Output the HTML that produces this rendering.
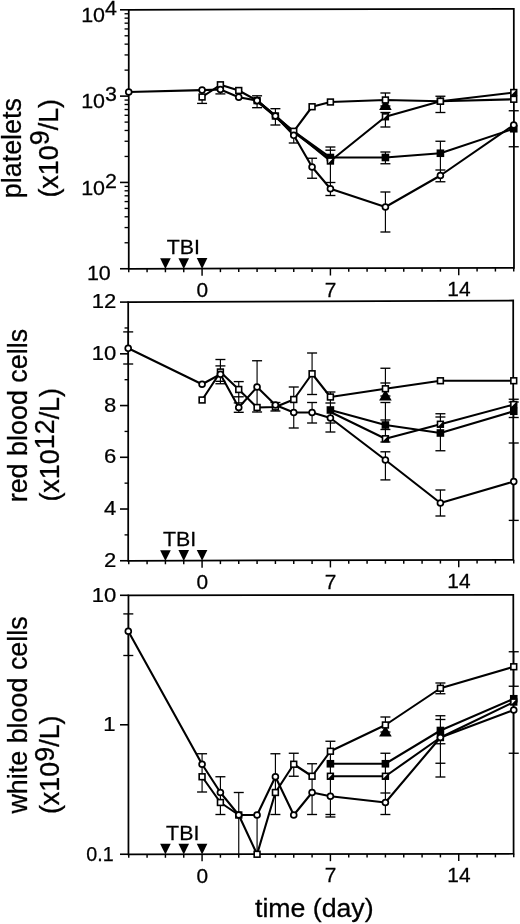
<!DOCTYPE html>
<html><head><meta charset="utf-8"><title>Figure</title>
<style>html,body{margin:0;padding:0;background:#fff}svg{display:block}</style>
</head><body>
<svg width="520" height="924" viewBox="0 0 520 924">
<rect width="520" height="924" fill="#fff"/>
<path d="M128.75 9.80L513.80 8.80L514.00 267.90L128.75 268.75Z" fill="none" stroke="#000" stroke-width="1.75" stroke-linejoin="miter"/>
<path d="M128.75 268.75v3.60" stroke="#000" stroke-width="1.45"/>
<path d="M147.08 268.71v3.60" stroke="#000" stroke-width="1.45"/>
<path d="M165.42 268.67v3.60" stroke="#000" stroke-width="1.45"/>
<path d="M183.75 268.63v3.60" stroke="#000" stroke-width="1.45"/>
<path d="M202.08 268.59v7.20" stroke="#000" stroke-width="1.45"/>
<path d="M220.41 268.55v3.60" stroke="#000" stroke-width="1.45"/>
<path d="M238.75 268.51v3.60" stroke="#000" stroke-width="1.45"/>
<path d="M257.08 268.47v3.60" stroke="#000" stroke-width="1.45"/>
<path d="M275.41 268.43v3.60" stroke="#000" stroke-width="1.45"/>
<path d="M293.75 268.39v3.60" stroke="#000" stroke-width="1.45"/>
<path d="M312.08 268.35v3.60" stroke="#000" stroke-width="1.45"/>
<path d="M330.41 268.31v7.20" stroke="#000" stroke-width="1.45"/>
<path d="M348.75 268.26v3.60" stroke="#000" stroke-width="1.45"/>
<path d="M367.08 268.22v3.60" stroke="#000" stroke-width="1.45"/>
<path d="M385.41 268.18v3.60" stroke="#000" stroke-width="1.45"/>
<path d="M403.75 268.14v3.60" stroke="#000" stroke-width="1.45"/>
<path d="M422.08 268.10v3.60" stroke="#000" stroke-width="1.45"/>
<path d="M440.41 268.06v3.60" stroke="#000" stroke-width="1.45"/>
<path d="M458.74 268.02v7.20" stroke="#000" stroke-width="1.45"/>
<path d="M477.08 267.98v3.60" stroke="#000" stroke-width="1.45"/>
<path d="M495.41 267.94v3.60" stroke="#000" stroke-width="1.45"/>
<path d="M513.74 267.90v3.60" stroke="#000" stroke-width="1.45"/>
<text transform="translate(202.28 296.99) scale(1.06 1)" font-size="19.7" text-anchor="middle" stroke="#000" stroke-width="0.25" font-family="'Liberation Sans', sans-serif">0</text>
<text transform="translate(330.61 296.71) scale(1.06 1)" font-size="19.7" text-anchor="middle" stroke="#000" stroke-width="0.25" font-family="'Liberation Sans', sans-serif">7</text>
<text transform="translate(458.94 296.42) scale(1.06 1)" font-size="19.7" text-anchor="middle" stroke="#000" stroke-width="0.25" font-family="'Liberation Sans', sans-serif">14</text>
<path d="M160.12 258.17L170.72 258.17L165.42 268.97Z" fill="#000"/>
<path d="M178.45 258.13L189.05 258.13L183.75 268.93Z" fill="#000"/>
<path d="M196.78 258.09L207.38 258.09L202.08 268.89Z" fill="#000"/>
<text transform="translate(183.40 254.15) scale(1.08 1)" font-size="19.8" text-anchor="middle" stroke="#000" stroke-width="0.25" font-family="'Liberation Sans', sans-serif">TBI</text>
<path d="M124.55 242.77h4.20" stroke="#000" stroke-width="1.35"/>
<path d="M124.55 227.57h4.20" stroke="#000" stroke-width="1.35"/>
<path d="M124.55 216.78h4.20" stroke="#000" stroke-width="1.35"/>
<path d="M124.55 208.42h4.20" stroke="#000" stroke-width="1.35"/>
<path d="M124.55 201.58h4.20" stroke="#000" stroke-width="1.35"/>
<path d="M124.55 195.80h4.20" stroke="#000" stroke-width="1.35"/>
<path d="M124.55 190.80h4.20" stroke="#000" stroke-width="1.35"/>
<path d="M124.55 186.38h4.20" stroke="#000" stroke-width="1.35"/>
<path d="M124.55 156.45h4.20" stroke="#000" stroke-width="1.35"/>
<path d="M124.55 141.25h4.20" stroke="#000" stroke-width="1.35"/>
<path d="M124.55 130.47h4.20" stroke="#000" stroke-width="1.35"/>
<path d="M124.55 122.10h4.20" stroke="#000" stroke-width="1.35"/>
<path d="M124.55 115.27h4.20" stroke="#000" stroke-width="1.35"/>
<path d="M124.55 109.49h4.20" stroke="#000" stroke-width="1.35"/>
<path d="M124.55 104.48h4.20" stroke="#000" stroke-width="1.35"/>
<path d="M124.55 100.07h4.20" stroke="#000" stroke-width="1.35"/>
<path d="M124.55 70.13h4.20" stroke="#000" stroke-width="1.35"/>
<path d="M124.55 54.93h4.20" stroke="#000" stroke-width="1.35"/>
<path d="M124.55 44.15h4.20" stroke="#000" stroke-width="1.35"/>
<path d="M124.55 35.78h4.20" stroke="#000" stroke-width="1.35"/>
<path d="M124.55 28.95h4.20" stroke="#000" stroke-width="1.35"/>
<path d="M124.55 23.17h4.20" stroke="#000" stroke-width="1.35"/>
<path d="M124.55 18.16h4.20" stroke="#000" stroke-width="1.35"/>
<path d="M124.55 13.75h4.20" stroke="#000" stroke-width="1.35"/>
<path d="M120.00 9.80h8.75" stroke="#000" stroke-width="1.60"/>
<text transform="translate(117 21.90) scale(1.09 1)" font-size="19.7" text-anchor="end" stroke="#000" stroke-width="0.25" font-family="'Liberation Sans', sans-serif">10<tspan dy="-7">4</tspan></text>
<path d="M120.00 96.12h8.75" stroke="#000" stroke-width="1.60"/>
<text transform="translate(117 108.22) scale(1.09 1)" font-size="19.7" text-anchor="end" stroke="#000" stroke-width="0.25" font-family="'Liberation Sans', sans-serif">10<tspan dy="-7">3</tspan></text>
<path d="M120.00 182.43h8.75" stroke="#000" stroke-width="1.60"/>
<text transform="translate(117 194.53) scale(1.09 1)" font-size="19.7" text-anchor="end" stroke="#000" stroke-width="0.25" font-family="'Liberation Sans', sans-serif">10<tspan dy="-7">2</tspan></text>
<path d="M120.00 268.75h8.75" stroke="#000" stroke-width="1.60"/>
<text transform="translate(110.8 279.55) scale(1.09 1)" font-size="19.7" text-anchor="end" stroke="#000" stroke-width="0.25" font-family="'Liberation Sans', sans-serif">10</text>
<path d="M202.08 92.00V103.40" stroke="#000" stroke-width="1.15" fill="none"/>
<path d="M197.08 103.40H207.08" stroke="#000" stroke-width="1.35" fill="none"/>
<path d="M220.41 86.00V93.90" stroke="#000" stroke-width="1.15" fill="none"/>
<path d="M215.41 93.90H225.41" stroke="#000" stroke-width="1.35" fill="none"/>
<path d="M257.08 95.80V107.70" stroke="#000" stroke-width="1.15" fill="none"/>
<path d="M252.08 95.80H262.08" stroke="#000" stroke-width="1.35" fill="none"/>
<path d="M252.08 107.70H262.08" stroke="#000" stroke-width="1.35" fill="none"/>
<path d="M275.41 108.70V125.00" stroke="#000" stroke-width="1.15" fill="none"/>
<path d="M270.41 108.70H280.41" stroke="#000" stroke-width="1.35" fill="none"/>
<path d="M270.41 125.00H280.41" stroke="#000" stroke-width="1.35" fill="none"/>
<path d="M293.75 131.00V143.00" stroke="#000" stroke-width="1.15" fill="none"/>
<path d="M288.75 143.00H298.75" stroke="#000" stroke-width="1.35" fill="none"/>
<path d="M312.08 158.25V178.25" stroke="#000" stroke-width="1.15" fill="none"/>
<path d="M307.08 158.25H317.08" stroke="#000" stroke-width="1.35" fill="none"/>
<path d="M307.08 178.25H317.08" stroke="#000" stroke-width="1.35" fill="none"/>
<path d="M330.41 147.00V195.50" stroke="#000" stroke-width="1.15" fill="none"/>
<path d="M325.41 147.00H335.41" stroke="#000" stroke-width="1.35" fill="none"/>
<path d="M325.41 195.50H335.41" stroke="#000" stroke-width="1.35" fill="none"/>
<path d="M325.41 150.20H335.41" stroke="#000" stroke-width="1.35" fill="none"/>
<path d="M325.41 182.50H335.41" stroke="#000" stroke-width="1.35" fill="none"/>
<path d="M385.41 93.00V106.00" stroke="#000" stroke-width="1.15" fill="none"/>
<path d="M380.41 93.00H390.41" stroke="#000" stroke-width="1.35" fill="none"/>
<path d="M380.41 106.00H390.41" stroke="#000" stroke-width="1.35" fill="none"/>
<path d="M385.41 112.50V127.00" stroke="#000" stroke-width="1.15" fill="none"/>
<path d="M380.41 112.50H390.41" stroke="#000" stroke-width="1.35" fill="none"/>
<path d="M380.41 127.00H390.41" stroke="#000" stroke-width="1.35" fill="none"/>
<path d="M385.41 152.00V163.75" stroke="#000" stroke-width="1.15" fill="none"/>
<path d="M380.41 152.00H390.41" stroke="#000" stroke-width="1.35" fill="none"/>
<path d="M380.41 163.75H390.41" stroke="#000" stroke-width="1.35" fill="none"/>
<path d="M385.41 192.00V232.00" stroke="#000" stroke-width="1.15" fill="none"/>
<path d="M380.41 192.00H390.41" stroke="#000" stroke-width="1.35" fill="none"/>
<path d="M380.41 232.00H390.41" stroke="#000" stroke-width="1.35" fill="none"/>
<path d="M440.41 96.25V112.50" stroke="#000" stroke-width="1.15" fill="none"/>
<path d="M435.41 96.25H445.41" stroke="#000" stroke-width="1.35" fill="none"/>
<path d="M435.41 112.50H445.41" stroke="#000" stroke-width="1.35" fill="none"/>
<path d="M440.41 141.25V181.75" stroke="#000" stroke-width="1.15" fill="none"/>
<path d="M435.41 141.25H445.41" stroke="#000" stroke-width="1.35" fill="none"/>
<path d="M435.41 181.75H445.41" stroke="#000" stroke-width="1.35" fill="none"/>
<path d="M435.41 170.00H445.41" stroke="#000" stroke-width="1.35" fill="none"/>
<path d="M513.74 110.75V146.75" stroke="#000" stroke-width="1.15" fill="none"/>
<path d="M508.74 110.75H518.74" stroke="#000" stroke-width="1.35" fill="none"/>
<path d="M508.74 146.75H518.74" stroke="#000" stroke-width="1.35" fill="none"/>
<path d="M513.74 88.00V103.00" stroke="#000" stroke-width="1.15" fill="none"/>
<polyline fill="none" stroke="#000" stroke-width="2.10" stroke-linejoin="round" points="293.75,131.30 330.41,157.50 385.41,157.50 440.41,153.25 513.75,128.75"/>
<polyline fill="none" stroke="#000" stroke-width="2.10" stroke-linejoin="round" points="293.75,131.30 330.41,161.00 385.41,116.75 440.41,101.25 513.75,92.50"/>
<polyline fill="none" stroke="#000" stroke-width="2.10" stroke-linejoin="round" points="202.08,97.00 220.41,84.80 238.75,90.50 257.08,100.60 275.41,116.00 293.75,131.30 312.08,106.75 330.41,102.00 385.41,100.00 440.41,101.25 513.75,99.25"/>
<polyline fill="none" stroke="#000" stroke-width="2.10" stroke-linejoin="round" points="128.75,92.00 202.08,90.10 220.41,89.50 238.75,97.20 257.08,100.60 275.41,116.00 293.75,135.30 312.08,167.00 330.41,188.75 385.41,207.00 440.41,175.50 513.75,125.00"/>
<polyline fill="none" stroke="#000" stroke-width="1.60" stroke-linejoin="round" points="293.75,132.50 330.41,159.30"/>
<polyline fill="none" stroke="#000" stroke-width="3.00" stroke-linejoin="round" points="257.08,100.80 275.41,116.20 293.75,133.00"/>
<path d="M385.41 99.00L391.71 110.00L379.11 110.00Z" fill="#000"/>
<rect x="326.61" y="153.70" width="7.6" height="7.6" fill="#000"/>
<rect x="381.61" y="153.70" width="7.6" height="7.6" fill="#000"/>
<rect x="436.61" y="149.45" width="7.6" height="7.6" fill="#000"/>
<rect x="509.95" y="124.95" width="7.6" height="7.6" fill="#000"/>
<rect x="327.51" y="158.10" width="5.8" height="5.8" fill="#fff" stroke="#000" stroke-width="1.6"/>
<path d="M327.51 163.90L333.31 158.10L333.31 163.90Z" fill="#000"/>
<rect x="382.51" y="113.85" width="5.8" height="5.8" fill="#fff" stroke="#000" stroke-width="1.6"/>
<path d="M382.51 119.65L388.31 113.85L388.31 119.65Z" fill="#000"/>
<rect x="437.51" y="98.35" width="5.8" height="5.8" fill="#fff" stroke="#000" stroke-width="1.6"/>
<path d="M437.51 104.15L443.31 98.35L443.31 104.15Z" fill="#000"/>
<rect x="510.85" y="89.60" width="5.8" height="5.8" fill="#fff" stroke="#000" stroke-width="1.6"/>
<path d="M510.85 95.40L516.65 89.60L516.65 95.40Z" fill="#000"/>
<rect x="199.18" y="94.10" width="5.8" height="5.8" fill="#fff" stroke="#000" stroke-width="1.6"/>
<rect x="217.51" y="81.90" width="5.8" height="5.8" fill="#fff" stroke="#000" stroke-width="1.6"/>
<rect x="235.85" y="87.60" width="5.8" height="5.8" fill="#fff" stroke="#000" stroke-width="1.6"/>
<rect x="254.18" y="97.70" width="5.8" height="5.8" fill="#fff" stroke="#000" stroke-width="1.6"/>
<rect x="272.51" y="113.10" width="5.8" height="5.8" fill="#fff" stroke="#000" stroke-width="1.6"/>
<rect x="290.85" y="128.40" width="5.8" height="5.8" fill="#fff" stroke="#000" stroke-width="1.6"/>
<rect x="309.18" y="103.85" width="5.8" height="5.8" fill="#fff" stroke="#000" stroke-width="1.6"/>
<rect x="327.51" y="99.10" width="5.8" height="5.8" fill="#fff" stroke="#000" stroke-width="1.6"/>
<rect x="382.51" y="97.10" width="5.8" height="5.8" fill="#fff" stroke="#000" stroke-width="1.6"/>
<rect x="437.51" y="98.35" width="5.8" height="5.8" fill="#fff" stroke="#000" stroke-width="1.6"/>
<rect x="510.85" y="96.35" width="5.8" height="5.8" fill="#fff" stroke="#000" stroke-width="1.6"/>
<circle cx="128.75" cy="92.00" r="2.95" fill="#fff" stroke="#000" stroke-width="1.7"/>
<circle cx="202.08" cy="90.10" r="2.95" fill="#fff" stroke="#000" stroke-width="1.7"/>
<circle cx="220.41" cy="89.50" r="2.95" fill="#fff" stroke="#000" stroke-width="1.7"/>
<circle cx="238.75" cy="97.20" r="2.95" fill="#fff" stroke="#000" stroke-width="1.7"/>
<circle cx="257.08" cy="100.60" r="2.95" fill="#fff" stroke="#000" stroke-width="1.7"/>
<circle cx="275.41" cy="116.00" r="2.95" fill="#fff" stroke="#000" stroke-width="1.7"/>
<circle cx="293.75" cy="135.30" r="2.95" fill="#fff" stroke="#000" stroke-width="1.7"/>
<circle cx="312.08" cy="167.00" r="2.95" fill="#fff" stroke="#000" stroke-width="1.7"/>
<circle cx="330.41" cy="188.75" r="2.95" fill="#fff" stroke="#000" stroke-width="1.7"/>
<circle cx="385.41" cy="207.00" r="2.95" fill="#fff" stroke="#000" stroke-width="1.7"/>
<circle cx="440.41" cy="175.50" r="2.95" fill="#fff" stroke="#000" stroke-width="1.7"/>
<circle cx="513.75" cy="125.00" r="2.95" fill="#fff" stroke="#000" stroke-width="1.7"/>
<path d="M128.20 302.10L513.20 300.50L513.30 559.80L128.20 560.75Z" fill="none" stroke="#000" stroke-width="1.75" stroke-linejoin="miter"/>
<path d="M128.75 560.75v3.60" stroke="#000" stroke-width="1.45"/>
<path d="M147.08 560.70v3.60" stroke="#000" stroke-width="1.45"/>
<path d="M165.42 560.66v3.60" stroke="#000" stroke-width="1.45"/>
<path d="M183.75 560.61v3.60" stroke="#000" stroke-width="1.45"/>
<path d="M202.08 560.57v7.20" stroke="#000" stroke-width="1.45"/>
<path d="M220.41 560.52v3.60" stroke="#000" stroke-width="1.45"/>
<path d="M238.75 560.48v3.60" stroke="#000" stroke-width="1.45"/>
<path d="M257.08 560.43v3.60" stroke="#000" stroke-width="1.45"/>
<path d="M275.41 560.39v3.60" stroke="#000" stroke-width="1.45"/>
<path d="M293.75 560.34v3.60" stroke="#000" stroke-width="1.45"/>
<path d="M312.08 560.30v3.60" stroke="#000" stroke-width="1.45"/>
<path d="M330.41 560.25v7.20" stroke="#000" stroke-width="1.45"/>
<path d="M348.75 560.21v3.60" stroke="#000" stroke-width="1.45"/>
<path d="M367.08 560.16v3.60" stroke="#000" stroke-width="1.45"/>
<path d="M385.41 560.12v3.60" stroke="#000" stroke-width="1.45"/>
<path d="M403.75 560.07v3.60" stroke="#000" stroke-width="1.45"/>
<path d="M422.08 560.03v3.60" stroke="#000" stroke-width="1.45"/>
<path d="M440.41 559.98v3.60" stroke="#000" stroke-width="1.45"/>
<path d="M458.74 559.93v7.20" stroke="#000" stroke-width="1.45"/>
<path d="M477.08 559.89v3.60" stroke="#000" stroke-width="1.45"/>
<path d="M495.41 559.84v3.60" stroke="#000" stroke-width="1.45"/>
<path d="M513.74 559.80v3.60" stroke="#000" stroke-width="1.45"/>
<text transform="translate(202.28 588.97) scale(1.06 1)" font-size="19.7" text-anchor="middle" stroke="#000" stroke-width="0.25" font-family="'Liberation Sans', sans-serif">0</text>
<text transform="translate(330.61 588.65) scale(1.06 1)" font-size="19.7" text-anchor="middle" stroke="#000" stroke-width="0.25" font-family="'Liberation Sans', sans-serif">7</text>
<text transform="translate(458.94 588.33) scale(1.06 1)" font-size="19.7" text-anchor="middle" stroke="#000" stroke-width="0.25" font-family="'Liberation Sans', sans-serif">14</text>
<path d="M160.12 550.16L170.72 550.16L165.42 560.96Z" fill="#000"/>
<path d="M178.45 550.11L189.05 550.11L183.75 560.91Z" fill="#000"/>
<path d="M196.78 550.07L207.38 550.07L202.08 560.87Z" fill="#000"/>
<text transform="translate(179.50 546.45) scale(1.08 1)" font-size="19.8" text-anchor="middle" stroke="#000" stroke-width="0.25" font-family="'Liberation Sans', sans-serif">TBI</text>
<path d="M120.00 560.75h8.75" stroke="#000" stroke-width="1.60"/>
<text transform="translate(116.3 566.95) scale(1.12 1)" font-size="19.7" text-anchor="end" stroke="#000" stroke-width="0.25" font-family="'Liberation Sans', sans-serif">2</text>
<path d="M124.55 534.88h4.20" stroke="#000" stroke-width="1.35"/>
<path d="M120.00 509.02h8.75" stroke="#000" stroke-width="1.60"/>
<text transform="translate(116.3 515.22) scale(1.12 1)" font-size="19.7" text-anchor="end" stroke="#000" stroke-width="0.25" font-family="'Liberation Sans', sans-serif">4</text>
<path d="M124.55 483.15h4.20" stroke="#000" stroke-width="1.35"/>
<path d="M120.00 457.29h8.75" stroke="#000" stroke-width="1.60"/>
<text transform="translate(116.3 463.49) scale(1.12 1)" font-size="19.7" text-anchor="end" stroke="#000" stroke-width="0.25" font-family="'Liberation Sans', sans-serif">6</text>
<path d="M124.55 431.43h4.20" stroke="#000" stroke-width="1.35"/>
<path d="M120.00 405.56h8.75" stroke="#000" stroke-width="1.60"/>
<text transform="translate(116.3 411.76) scale(1.12 1)" font-size="19.7" text-anchor="end" stroke="#000" stroke-width="0.25" font-family="'Liberation Sans', sans-serif">8</text>
<path d="M124.55 379.70h4.20" stroke="#000" stroke-width="1.35"/>
<path d="M120.00 353.83h8.75" stroke="#000" stroke-width="1.60"/>
<text transform="translate(116.3 360.03) scale(1.12 1)" font-size="19.7" text-anchor="end" stroke="#000" stroke-width="0.25" font-family="'Liberation Sans', sans-serif">10</text>
<path d="M124.55 327.97h4.20" stroke="#000" stroke-width="1.35"/>
<path d="M120.00 302.10h8.75" stroke="#000" stroke-width="1.60"/>
<text transform="translate(116.3 308.30) scale(1.12 1)" font-size="19.7" text-anchor="end" stroke="#000" stroke-width="0.25" font-family="'Liberation Sans', sans-serif">12</text>
<path d="M128.20 331.90V364.00" stroke="#000" stroke-width="1.15" fill="none"/>
<path d="M123.20 331.90H133.20" stroke="#000" stroke-width="1.35" fill="none"/>
<path d="M123.20 364.00H133.20" stroke="#000" stroke-width="1.35" fill="none"/>
<path d="M220.41 359.50V383.75" stroke="#000" stroke-width="1.15" fill="none"/>
<path d="M215.41 359.50H225.41" stroke="#000" stroke-width="1.35" fill="none"/>
<path d="M215.41 383.75H225.41" stroke="#000" stroke-width="1.35" fill="none"/>
<path d="M215.41 365.90H225.41" stroke="#000" stroke-width="1.35" fill="none"/>
<path d="M215.41 381.30H225.41" stroke="#000" stroke-width="1.35" fill="none"/>
<path d="M238.75 381.60V412.30" stroke="#000" stroke-width="1.15" fill="none"/>
<path d="M233.75 381.60H243.75" stroke="#000" stroke-width="1.35" fill="none"/>
<path d="M233.75 412.30H243.75" stroke="#000" stroke-width="1.35" fill="none"/>
<path d="M233.75 396.80H243.75" stroke="#000" stroke-width="1.35" fill="none"/>
<path d="M233.75 402.90H243.75" stroke="#000" stroke-width="1.35" fill="none"/>
<path d="M257.08 360.75V412.00" stroke="#000" stroke-width="1.15" fill="none"/>
<path d="M252.08 360.75H262.08" stroke="#000" stroke-width="1.35" fill="none"/>
<path d="M252.08 412.00H262.08" stroke="#000" stroke-width="1.35" fill="none"/>
<path d="M275.41 402.50V411.00" stroke="#000" stroke-width="1.15" fill="none"/>
<path d="M270.41 402.50H280.41" stroke="#000" stroke-width="1.35" fill="none"/>
<path d="M270.41 411.00H280.41" stroke="#000" stroke-width="1.35" fill="none"/>
<path d="M293.75 387.00V428.00" stroke="#000" stroke-width="1.15" fill="none"/>
<path d="M288.75 387.00H298.75" stroke="#000" stroke-width="1.35" fill="none"/>
<path d="M288.75 428.00H298.75" stroke="#000" stroke-width="1.35" fill="none"/>
<path d="M312.08 353.00V394.50" stroke="#000" stroke-width="1.15" fill="none"/>
<path d="M307.08 353.00H317.08" stroke="#000" stroke-width="1.35" fill="none"/>
<path d="M307.08 394.50H317.08" stroke="#000" stroke-width="1.35" fill="none"/>
<path d="M312.08 402.50V423.00" stroke="#000" stroke-width="1.15" fill="none"/>
<path d="M307.08 402.50H317.08" stroke="#000" stroke-width="1.35" fill="none"/>
<path d="M307.08 423.00H317.08" stroke="#000" stroke-width="1.35" fill="none"/>
<path d="M330.41 392.00V432.00" stroke="#000" stroke-width="1.15" fill="none"/>
<path d="M325.41 392.00H335.41" stroke="#000" stroke-width="1.35" fill="none"/>
<path d="M325.41 432.00H335.41" stroke="#000" stroke-width="1.35" fill="none"/>
<path d="M325.41 403.00H335.41" stroke="#000" stroke-width="1.35" fill="none"/>
<path d="M325.41 423.00H335.41" stroke="#000" stroke-width="1.35" fill="none"/>
<path d="M385.41 368.25V396.00" stroke="#000" stroke-width="1.15" fill="none"/>
<path d="M380.41 368.25H390.41" stroke="#000" stroke-width="1.35" fill="none"/>
<path d="M380.41 396.00H390.41" stroke="#000" stroke-width="1.35" fill="none"/>
<path d="M380.41 383.00H390.41" stroke="#000" stroke-width="1.35" fill="none"/>
<path d="M385.41 402.50V442.00" stroke="#000" stroke-width="1.15" fill="none"/>
<path d="M380.41 402.50H390.41" stroke="#000" stroke-width="1.35" fill="none"/>
<path d="M380.41 442.00H390.41" stroke="#000" stroke-width="1.35" fill="none"/>
<path d="M380.41 420.00H390.41" stroke="#000" stroke-width="1.35" fill="none"/>
<path d="M380.41 429.50H390.41" stroke="#000" stroke-width="1.35" fill="none"/>
<path d="M385.41 451.80V479.90" stroke="#000" stroke-width="1.15" fill="none"/>
<path d="M380.41 451.80H390.41" stroke="#000" stroke-width="1.35" fill="none"/>
<path d="M380.41 479.90H390.41" stroke="#000" stroke-width="1.35" fill="none"/>
<path d="M440.41 413.75V450.75" stroke="#000" stroke-width="1.15" fill="none"/>
<path d="M435.41 413.75H445.41" stroke="#000" stroke-width="1.35" fill="none"/>
<path d="M435.41 450.75H445.41" stroke="#000" stroke-width="1.35" fill="none"/>
<path d="M435.41 417.00H445.41" stroke="#000" stroke-width="1.35" fill="none"/>
<path d="M440.41 490.00V516.00" stroke="#000" stroke-width="1.15" fill="none"/>
<path d="M435.41 490.00H445.41" stroke="#000" stroke-width="1.35" fill="none"/>
<path d="M435.41 516.00H445.41" stroke="#000" stroke-width="1.35" fill="none"/>
<path d="M513.74 399.25V417.50" stroke="#000" stroke-width="1.15" fill="none"/>
<path d="M508.74 399.25H518.74" stroke="#000" stroke-width="1.35" fill="none"/>
<path d="M508.74 417.50H518.74" stroke="#000" stroke-width="1.35" fill="none"/>
<path d="M508.74 402.00H518.74" stroke="#000" stroke-width="1.35" fill="none"/>
<path d="M513.74 443.00V520.40" stroke="#000" stroke-width="1.15" fill="none"/>
<path d="M508.74 443.00H518.74" stroke="#000" stroke-width="1.35" fill="none"/>
<path d="M508.74 520.40H518.74" stroke="#000" stroke-width="1.35" fill="none"/>
<polyline fill="none" stroke="#000" stroke-width="2.10" stroke-linejoin="round" points="330.41,410.00 385.41,425.00 440.41,433.00 513.75,411.25"/>
<polyline fill="none" stroke="#000" stroke-width="2.10" stroke-linejoin="round" points="330.41,412.00 385.41,438.75 440.41,424.25 513.75,404.50"/>
<polyline fill="none" stroke="#000" stroke-width="2.10" stroke-linejoin="round" points="202.08,400.00 220.41,372.00 238.75,389.50 257.08,407.50 275.41,407.00 293.75,399.50 312.08,373.75 330.41,397.00 385.41,388.75 440.41,380.75 513.75,380.75"/>
<polyline fill="none" stroke="#000" stroke-width="2.10" stroke-linejoin="round" points="128.20,348.30 202.08,384.25 220.41,374.25 238.75,407.50 257.08,387.00 275.41,405.00 293.75,412.50 312.08,412.50 330.41,418.00 385.41,460.00 440.41,503.00 513.75,481.60"/>
<path d="M385.41 389.50L391.71 400.50L379.11 400.50Z" fill="#000"/>
<rect x="326.61" y="406.20" width="7.6" height="7.6" fill="#000"/>
<rect x="381.61" y="421.20" width="7.6" height="7.6" fill="#000"/>
<rect x="436.61" y="429.20" width="7.6" height="7.6" fill="#000"/>
<rect x="509.95" y="407.45" width="7.6" height="7.6" fill="#000"/>
<rect x="382.51" y="435.85" width="5.8" height="5.8" fill="#fff" stroke="#000" stroke-width="1.6"/>
<path d="M382.51 441.65L388.31 435.85L388.31 441.65Z" fill="#000"/>
<rect x="437.51" y="421.35" width="5.8" height="5.8" fill="#fff" stroke="#000" stroke-width="1.6"/>
<path d="M437.51 427.15L443.31 421.35L443.31 427.15Z" fill="#000"/>
<rect x="510.85" y="401.60" width="5.8" height="5.8" fill="#fff" stroke="#000" stroke-width="1.6"/>
<path d="M510.85 407.40L516.65 401.60L516.65 407.40Z" fill="#000"/>
<rect x="199.18" y="397.10" width="5.8" height="5.8" fill="#fff" stroke="#000" stroke-width="1.6"/>
<rect x="217.51" y="369.10" width="5.8" height="5.8" fill="#fff" stroke="#000" stroke-width="1.6"/>
<rect x="235.85" y="386.60" width="5.8" height="5.8" fill="#fff" stroke="#000" stroke-width="1.6"/>
<rect x="254.18" y="404.60" width="5.8" height="5.8" fill="#fff" stroke="#000" stroke-width="1.6"/>
<rect x="272.51" y="404.10" width="5.8" height="5.8" fill="#fff" stroke="#000" stroke-width="1.6"/>
<rect x="290.85" y="396.60" width="5.8" height="5.8" fill="#fff" stroke="#000" stroke-width="1.6"/>
<rect x="309.18" y="370.85" width="5.8" height="5.8" fill="#fff" stroke="#000" stroke-width="1.6"/>
<rect x="327.51" y="394.10" width="5.8" height="5.8" fill="#fff" stroke="#000" stroke-width="1.6"/>
<rect x="382.51" y="385.85" width="5.8" height="5.8" fill="#fff" stroke="#000" stroke-width="1.6"/>
<rect x="437.51" y="377.85" width="5.8" height="5.8" fill="#fff" stroke="#000" stroke-width="1.6"/>
<rect x="510.85" y="377.85" width="5.8" height="5.8" fill="#fff" stroke="#000" stroke-width="1.6"/>
<circle cx="128.20" cy="348.30" r="2.95" fill="#fff" stroke="#000" stroke-width="1.7"/>
<circle cx="202.08" cy="384.25" r="2.95" fill="#fff" stroke="#000" stroke-width="1.7"/>
<circle cx="220.41" cy="374.25" r="2.95" fill="#fff" stroke="#000" stroke-width="1.7"/>
<circle cx="238.75" cy="407.50" r="2.95" fill="#fff" stroke="#000" stroke-width="1.7"/>
<circle cx="257.08" cy="387.00" r="2.95" fill="#fff" stroke="#000" stroke-width="1.7"/>
<circle cx="275.41" cy="405.00" r="2.95" fill="#fff" stroke="#000" stroke-width="1.7"/>
<circle cx="293.75" cy="412.50" r="2.95" fill="#fff" stroke="#000" stroke-width="1.7"/>
<circle cx="312.08" cy="412.50" r="2.95" fill="#fff" stroke="#000" stroke-width="1.7"/>
<circle cx="330.41" cy="418.00" r="2.95" fill="#fff" stroke="#000" stroke-width="1.7"/>
<circle cx="385.41" cy="460.00" r="2.95" fill="#fff" stroke="#000" stroke-width="1.7"/>
<circle cx="440.41" cy="503.00" r="2.95" fill="#fff" stroke="#000" stroke-width="1.7"/>
<circle cx="513.75" cy="481.60" r="2.95" fill="#fff" stroke="#000" stroke-width="1.7"/>
<path d="M128.45 595.30L513.30 594.80L513.60 853.75L128.45 854.25Z" fill="none" stroke="#000" stroke-width="1.75" stroke-linejoin="miter"/>
<path d="M128.75 854.25v3.60" stroke="#000" stroke-width="1.45"/>
<path d="M147.08 854.23v3.60" stroke="#000" stroke-width="1.45"/>
<path d="M165.42 854.20v3.60" stroke="#000" stroke-width="1.45"/>
<path d="M183.75 854.18v3.60" stroke="#000" stroke-width="1.45"/>
<path d="M202.08 854.15v7.20" stroke="#000" stroke-width="1.45"/>
<path d="M220.41 854.13v3.60" stroke="#000" stroke-width="1.45"/>
<path d="M238.75 854.11v3.60" stroke="#000" stroke-width="1.45"/>
<path d="M257.08 854.08v3.60" stroke="#000" stroke-width="1.45"/>
<path d="M275.41 854.06v3.60" stroke="#000" stroke-width="1.45"/>
<path d="M293.75 854.04v3.60" stroke="#000" stroke-width="1.45"/>
<path d="M312.08 854.01v3.60" stroke="#000" stroke-width="1.45"/>
<path d="M330.41 853.99v7.20" stroke="#000" stroke-width="1.45"/>
<path d="M348.75 853.96v3.60" stroke="#000" stroke-width="1.45"/>
<path d="M367.08 853.94v3.60" stroke="#000" stroke-width="1.45"/>
<path d="M385.41 853.92v3.60" stroke="#000" stroke-width="1.45"/>
<path d="M403.75 853.89v3.60" stroke="#000" stroke-width="1.45"/>
<path d="M422.08 853.87v3.60" stroke="#000" stroke-width="1.45"/>
<path d="M440.41 853.85v3.60" stroke="#000" stroke-width="1.45"/>
<path d="M458.74 853.82v7.20" stroke="#000" stroke-width="1.45"/>
<path d="M477.08 853.80v3.60" stroke="#000" stroke-width="1.45"/>
<path d="M495.41 853.77v3.60" stroke="#000" stroke-width="1.45"/>
<path d="M513.74 853.75v3.60" stroke="#000" stroke-width="1.45"/>
<text transform="translate(202.28 882.55) scale(1.06 1)" font-size="19.7" text-anchor="middle" stroke="#000" stroke-width="0.25" font-family="'Liberation Sans', sans-serif">0</text>
<text transform="translate(330.61 882.39) scale(1.06 1)" font-size="19.7" text-anchor="middle" stroke="#000" stroke-width="0.25" font-family="'Liberation Sans', sans-serif">7</text>
<text transform="translate(458.94 882.22) scale(1.06 1)" font-size="19.7" text-anchor="middle" stroke="#000" stroke-width="0.25" font-family="'Liberation Sans', sans-serif">14</text>
<path d="M160.12 843.70L170.72 843.70L165.42 854.50Z" fill="#000"/>
<path d="M178.45 843.68L189.05 843.68L183.75 854.48Z" fill="#000"/>
<path d="M196.78 843.65L207.38 843.65L202.08 854.45Z" fill="#000"/>
<text transform="translate(182.70 840.35) scale(1.08 1)" font-size="19.8" text-anchor="middle" stroke="#000" stroke-width="0.25" font-family="'Liberation Sans', sans-serif">TBI</text>
<path d="M120.00 854.25h8.75" stroke="#000" stroke-width="1.60"/>
<text transform="translate(113.7 860.85) scale(1.0 1)" font-size="19.7" text-anchor="end" stroke="#000" stroke-width="0.25" font-family="'Liberation Sans', sans-serif">0.1</text>
<path d="M120.00 724.77h8.75" stroke="#000" stroke-width="1.60"/>
<text transform="translate(115.6 731.07) scale(1.12 1)" font-size="19.7" text-anchor="end" stroke="#000" stroke-width="0.25" font-family="'Liberation Sans', sans-serif">1</text>
<path d="M120.00 595.30h8.75" stroke="#000" stroke-width="1.60"/>
<text transform="translate(116.3 601.50) scale(1.12 1)" font-size="19.7" text-anchor="end" stroke="#000" stroke-width="0.25" font-family="'Liberation Sans', sans-serif">10</text>
<path d="M128.30 613.90V655.50" stroke="#000" stroke-width="1.15" fill="none"/>
<path d="M123.30 613.90H133.30" stroke="#000" stroke-width="1.35" fill="none"/>
<path d="M123.30 655.50H133.30" stroke="#000" stroke-width="1.35" fill="none"/>
<path d="M202.08 753.75V792.00" stroke="#000" stroke-width="1.15" fill="none"/>
<path d="M197.08 753.75H207.08" stroke="#000" stroke-width="1.35" fill="none"/>
<path d="M197.08 792.00H207.08" stroke="#000" stroke-width="1.35" fill="none"/>
<path d="M220.41 776.75V814.50" stroke="#000" stroke-width="1.15" fill="none"/>
<path d="M215.41 776.75H225.41" stroke="#000" stroke-width="1.35" fill="none"/>
<path d="M215.41 814.50H225.41" stroke="#000" stroke-width="1.35" fill="none"/>
<path d="M238.75 792.50V854.25" stroke="#000" stroke-width="1.15" fill="none"/>
<path d="M233.75 792.50H243.75" stroke="#000" stroke-width="1.35" fill="none"/>
<path d="M257.08 815.00V854.25" stroke="#000" stroke-width="1.15" fill="none"/>
<path d="M275.41 753.75V814.50" stroke="#000" stroke-width="1.15" fill="none"/>
<path d="M270.41 753.75H280.41" stroke="#000" stroke-width="1.35" fill="none"/>
<path d="M270.41 814.50H280.41" stroke="#000" stroke-width="1.35" fill="none"/>
<path d="M293.75 753.25V776.25" stroke="#000" stroke-width="1.15" fill="none"/>
<path d="M288.75 753.25H298.75" stroke="#000" stroke-width="1.35" fill="none"/>
<path d="M288.75 776.25H298.75" stroke="#000" stroke-width="1.35" fill="none"/>
<path d="M312.08 763.75V814.50" stroke="#000" stroke-width="1.15" fill="none"/>
<path d="M307.08 763.75H317.08" stroke="#000" stroke-width="1.35" fill="none"/>
<path d="M307.08 814.50H317.08" stroke="#000" stroke-width="1.35" fill="none"/>
<path d="M330.41 741.25V817.00" stroke="#000" stroke-width="1.15" fill="none"/>
<path d="M325.41 741.25H335.41" stroke="#000" stroke-width="1.35" fill="none"/>
<path d="M325.41 817.00H335.41" stroke="#000" stroke-width="1.35" fill="none"/>
<path d="M325.41 814.50H335.41" stroke="#000" stroke-width="1.35" fill="none"/>
<path d="M385.41 717.00V732.00" stroke="#000" stroke-width="1.15" fill="none"/>
<path d="M380.41 717.00H390.41" stroke="#000" stroke-width="1.35" fill="none"/>
<path d="M380.41 732.00H390.41" stroke="#000" stroke-width="1.35" fill="none"/>
<path d="M385.41 753.25V814.50" stroke="#000" stroke-width="1.15" fill="none"/>
<path d="M380.41 753.25H390.41" stroke="#000" stroke-width="1.35" fill="none"/>
<path d="M380.41 814.50H390.41" stroke="#000" stroke-width="1.35" fill="none"/>
<path d="M380.41 793.00H390.41" stroke="#000" stroke-width="1.35" fill="none"/>
<path d="M440.41 683.00V693.75" stroke="#000" stroke-width="1.15" fill="none"/>
<path d="M435.41 683.00H445.41" stroke="#000" stroke-width="1.35" fill="none"/>
<path d="M435.41 693.75H445.41" stroke="#000" stroke-width="1.35" fill="none"/>
<path d="M440.41 715.75V777.00" stroke="#000" stroke-width="1.15" fill="none"/>
<path d="M435.41 715.75H445.41" stroke="#000" stroke-width="1.35" fill="none"/>
<path d="M435.41 777.00H445.41" stroke="#000" stroke-width="1.35" fill="none"/>
<path d="M435.41 719.50H445.41" stroke="#000" stroke-width="1.35" fill="none"/>
<path d="M435.41 743.75H445.41" stroke="#000" stroke-width="1.35" fill="none"/>
<path d="M435.41 763.25H445.41" stroke="#000" stroke-width="1.35" fill="none"/>
<path d="M513.74 651.75V686.25" stroke="#000" stroke-width="1.15" fill="none"/>
<path d="M508.74 651.75H518.74" stroke="#000" stroke-width="1.35" fill="none"/>
<path d="M508.74 686.25H518.74" stroke="#000" stroke-width="1.35" fill="none"/>
<path d="M513.74 698.00V753.25" stroke="#000" stroke-width="1.15" fill="none"/>
<path d="M508.74 753.25H518.74" stroke="#000" stroke-width="1.35" fill="none"/>
<polyline fill="none" stroke="#000" stroke-width="2.10" stroke-linejoin="round" points="330.41,763.75 385.41,763.75 440.41,730.50 513.75,698.75"/>
<polyline fill="none" stroke="#000" stroke-width="2.10" stroke-linejoin="round" points="330.41,776.25 385.41,776.25 440.41,737.50 513.75,702.00"/>
<polyline fill="none" stroke="#000" stroke-width="2.10" stroke-linejoin="round" points="202.08,776.75 220.41,802.50 238.75,815.00 257.08,854.25 275.41,792.50 293.75,764.25 312.08,776.25 330.41,751.25 385.41,725.00 440.41,688.25 513.75,666.75"/>
<polyline fill="none" stroke="#000" stroke-width="2.10" stroke-linejoin="round" points="128.30,631.25 202.08,764.25 220.41,792.50 238.75,815.00 257.08,815.00 275.41,776.75 293.75,815.00 312.08,792.50 330.41,796.25 385.41,802.50 440.41,737.50 513.75,710.00"/>
<path d="M385.41 725.50L391.71 736.50L379.11 736.50Z" fill="#000"/>
<rect x="326.61" y="759.95" width="7.6" height="7.6" fill="#000"/>
<rect x="381.61" y="759.95" width="7.6" height="7.6" fill="#000"/>
<rect x="436.61" y="726.70" width="7.6" height="7.6" fill="#000"/>
<rect x="509.95" y="694.95" width="7.6" height="7.6" fill="#000"/>
<rect x="327.51" y="773.35" width="5.8" height="5.8" fill="#fff" stroke="#000" stroke-width="1.6"/>
<path d="M327.51 779.15L333.31 773.35L333.31 779.15Z" fill="#000"/>
<rect x="382.51" y="773.35" width="5.8" height="5.8" fill="#fff" stroke="#000" stroke-width="1.6"/>
<path d="M382.51 779.15L388.31 773.35L388.31 779.15Z" fill="#000"/>
<rect x="437.51" y="734.60" width="5.8" height="5.8" fill="#fff" stroke="#000" stroke-width="1.6"/>
<path d="M437.51 740.40L443.31 734.60L443.31 740.40Z" fill="#000"/>
<rect x="510.85" y="699.10" width="5.8" height="5.8" fill="#fff" stroke="#000" stroke-width="1.6"/>
<path d="M510.85 704.90L516.65 699.10L516.65 704.90Z" fill="#000"/>
<rect x="199.18" y="773.85" width="5.8" height="5.8" fill="#fff" stroke="#000" stroke-width="1.6"/>
<rect x="217.51" y="799.60" width="5.8" height="5.8" fill="#fff" stroke="#000" stroke-width="1.6"/>
<rect x="235.85" y="812.10" width="5.8" height="5.8" fill="#fff" stroke="#000" stroke-width="1.6"/>
<rect x="254.18" y="851.35" width="5.8" height="5.8" fill="#fff" stroke="#000" stroke-width="1.6"/>
<rect x="272.51" y="789.60" width="5.8" height="5.8" fill="#fff" stroke="#000" stroke-width="1.6"/>
<rect x="290.85" y="761.35" width="5.8" height="5.8" fill="#fff" stroke="#000" stroke-width="1.6"/>
<rect x="309.18" y="773.35" width="5.8" height="5.8" fill="#fff" stroke="#000" stroke-width="1.6"/>
<rect x="327.51" y="748.35" width="5.8" height="5.8" fill="#fff" stroke="#000" stroke-width="1.6"/>
<rect x="382.51" y="722.10" width="5.8" height="5.8" fill="#fff" stroke="#000" stroke-width="1.6"/>
<rect x="437.51" y="685.35" width="5.8" height="5.8" fill="#fff" stroke="#000" stroke-width="1.6"/>
<rect x="510.85" y="663.85" width="5.8" height="5.8" fill="#fff" stroke="#000" stroke-width="1.6"/>
<circle cx="128.30" cy="631.25" r="2.95" fill="#fff" stroke="#000" stroke-width="1.7"/>
<circle cx="202.08" cy="764.25" r="2.95" fill="#fff" stroke="#000" stroke-width="1.7"/>
<circle cx="220.41" cy="792.50" r="2.95" fill="#fff" stroke="#000" stroke-width="1.7"/>
<circle cx="238.75" cy="815.00" r="2.95" fill="#fff" stroke="#000" stroke-width="1.7"/>
<circle cx="257.08" cy="815.00" r="2.95" fill="#fff" stroke="#000" stroke-width="1.7"/>
<circle cx="275.41" cy="776.75" r="2.95" fill="#fff" stroke="#000" stroke-width="1.7"/>
<circle cx="293.75" cy="815.00" r="2.95" fill="#fff" stroke="#000" stroke-width="1.7"/>
<circle cx="312.08" cy="792.50" r="2.95" fill="#fff" stroke="#000" stroke-width="1.7"/>
<circle cx="330.41" cy="796.25" r="2.95" fill="#fff" stroke="#000" stroke-width="1.7"/>
<circle cx="385.41" cy="802.50" r="2.95" fill="#fff" stroke="#000" stroke-width="1.7"/>
<circle cx="440.41" cy="737.50" r="2.95" fill="#fff" stroke="#000" stroke-width="1.7"/>
<circle cx="513.75" cy="710.00" r="2.95" fill="#fff" stroke="#000" stroke-width="1.7"/>
<text transform="translate(21.40 198.20) rotate(-90) scale(1.000 1)" font-size="26.90" stroke="#000" stroke-width="0.3" font-family="'Liberation Sans', sans-serif">platelets</text>
<text transform="translate(58.10 197.60) rotate(-90) scale(1.000 1)" font-size="26.90" stroke="#000" stroke-width="0.3" font-family="'Liberation Sans', sans-serif">(x10<tspan dy="-8.7">9</tspan><tspan dy="8.7">/L)</tspan></text>
<text transform="translate(26.90 502.30) rotate(-90) scale(1.000 1)" font-size="26.90" stroke="#000" stroke-width="0.3" font-family="'Liberation Sans', sans-serif">red blood cells</text>
<text transform="translate(59.20 501.60) rotate(-90) scale(1.000 1)" font-size="26.90" stroke="#000" stroke-width="0.3" font-family="'Liberation Sans', sans-serif">(x10<tspan dy="-5.4">12</tspan><tspan dy="5.4">/L)</tspan></text>
<text transform="translate(26.50 813.60) rotate(-90) scale(1.000 1)" font-size="26.90" stroke="#000" stroke-width="0.3" font-family="'Liberation Sans', sans-serif">white blood cells</text>
<text transform="translate(59.20 814.10) rotate(-90) scale(1.000 1)" font-size="26.90" stroke="#000" stroke-width="0.3" font-family="'Liberation Sans', sans-serif">(x10<tspan dy="-5.4">9</tspan><tspan dy="5.4">/L)</tspan></text>
<text x="314.3" y="916.6" font-size="26.7" text-anchor="middle" stroke="#000" stroke-width="0.3" font-family="'Liberation Sans', sans-serif">time (day)</text>
</svg>
</body></html>
